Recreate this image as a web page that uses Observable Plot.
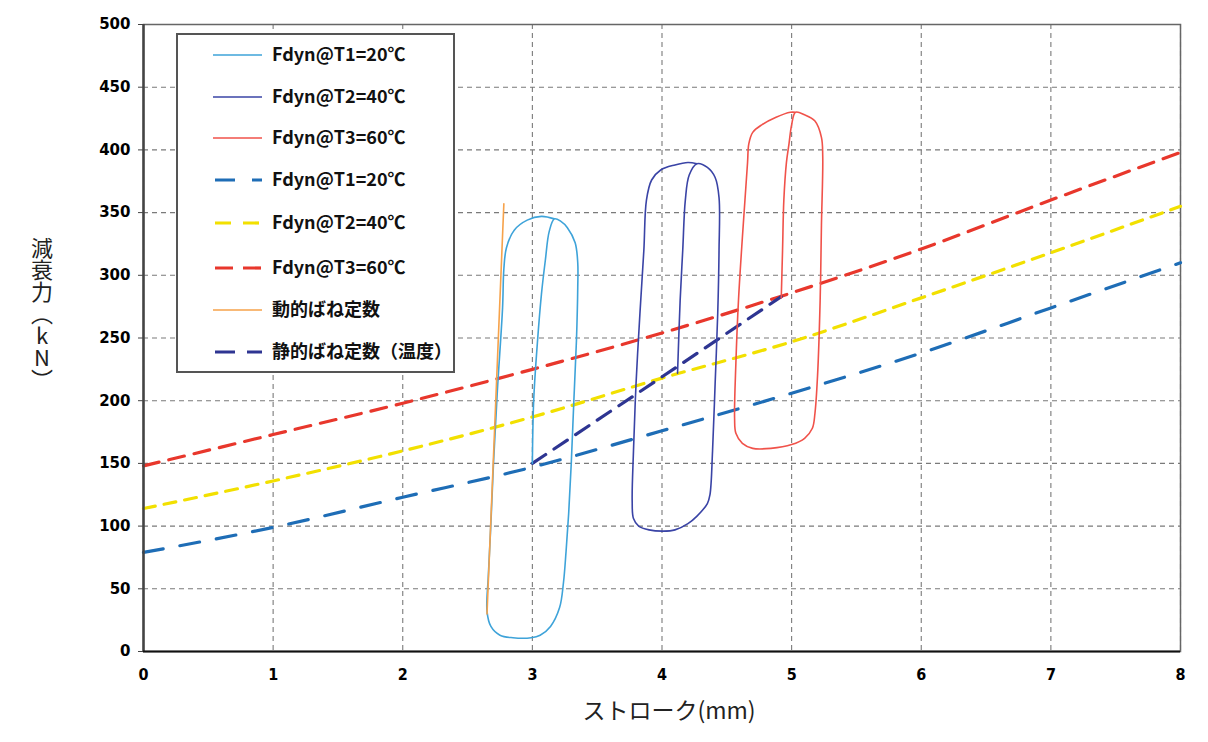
<!DOCTYPE html>
<html>
<head>
<meta charset="utf-8">
<script src="https://cdn.jsdelivr.net/npm/d3@7"></script>
<script src="https://cdn.jsdelivr.net/npm/@observablehq/plot@0.6"></script>
<style>
  html, body { margin: 0; padding: 0; background: #fff; }
  #chart { width: 1208px; height: 742px; }
</style>
</head>
<body>
<div id="chart"></div>
<script>
// ---- Data ----
const xTicks = [0, 1, 2, 3, 4, 5, 6, 7, 8];
const yTicks = [0, 50, 100, 150, 200, 250, 300, 350, 400, 450, 500];
const xLabel = "ストローク(mm)";
const yLabel = "減衰力（kN）";

// Static (dashed) characteristic lines
const staticX = [0, 1, 2, 3, 4, 5, 6, 7, 8];
const staticT1Y = [79, 99, 123, 147, 176, 206, 238, 274, 310];
const staticT2Y = [114, 136, 160, 187, 218, 247, 282, 318, 355];
const staticT3Y = [148, 173, 198, 225, 254, 286, 321, 360, 398];

// Hysteresis loops (Fdyn)
const loopT1X = [3.00, 3.01, 3.04, 3.07, 3.10, 3.13, 3.17, 3.22, 3.27, 3.33, 3.35, 3.35, 3.34, 3.32, 3.30, 3.28, 3.26, 3.24, 3.21, 3.14, 3.06, 2.99, 2.85, 2.75, 2.68, 2.65, 2.66, 2.68, 2.70, 2.73, 2.77, 2.78, 2.80, 2.86, 2.96, 3.07, 3.17];
const loopT1Y = [150, 200, 248, 285, 312, 335, 345, 343, 338, 326, 310, 290, 248, 200, 150, 110, 80, 55, 35, 20, 13, 11, 11, 13, 20, 32, 60, 102, 150, 208, 274, 305, 322, 336, 344, 347, 345];

const loopT2X = [4.12, 4.14, 4.16, 4.18, 4.21, 4.27, 4.35, 4.41, 4.44, 4.44, 4.43, 4.41, 4.39, 4.37, 4.35, 4.27, 4.20, 4.10, 4.01, 3.90, 3.82, 3.78, 3.77, 3.78, 3.80, 3.83, 3.86, 3.88, 3.92, 3.99, 4.10, 4.20, 4.27];
const loopT2Y = [222, 280, 320, 360, 380, 389, 386, 378, 362, 320, 270, 214, 160, 125, 118, 108, 102, 97, 96, 97, 100, 106, 120, 160, 214, 270, 320, 360, 376, 384, 388, 390, 389];

const loopT3X = [4.92, 4.93, 4.94, 4.96, 4.98, 5.00, 5.03, 5.10, 5.18, 5.23, 5.24, 5.23, 5.22, 5.20, 5.18, 5.16, 5.10, 5.00, 4.84, 4.70, 4.62, 4.57, 4.56, 4.57, 4.59, 4.62, 4.64, 4.66, 4.67, 4.70, 4.77, 4.88, 4.99, 5.03];
const loopT3Y = [282, 320, 360, 390, 405, 420, 430, 428, 423, 410, 395, 340, 280, 220, 190, 178, 170, 165, 162, 162, 166, 174, 186, 230, 280, 330, 360, 390, 405, 414, 420, 426, 430, 430];

// Dynamic spring constant (orange) and static spring constant (navy dashed)
const dynSpringX = [2.65, 2.78];
const dynSpringY = [30, 357];
const statSpringX = [3.0, 4.0, 4.92];
const statSpringY = [150, 219, 283];

// Legend
const legendNames = ["Fdyn@T1=20℃", "Fdyn@T2=40℃", "Fdyn@T3=60℃", "Fdyn@T1=20℃", "Fdyn@T2=40℃", "Fdyn@T3=60℃", "動的ばね定数", "静的ばね定数（温度）"];
const legendColors = ["#3ea3d9", "#3a44a6", "#f0524a", "#1e6db6", "#f2e000", "#e8372c", "#f6a24a", "#2e3592"];
const legendWidths = [1.6, 1.6, 1.6, 3.2, 3.2, 3.2, 1.6, 3.2];
const legendDash = ["", "", "", "20,17", "16,12", "18,10", "", "20,12"];

// ---- Chart ----
const font = "'Liberation Sans', Arial, sans-serif";
const chart = Plot.plot({
  width: 1208,
  height: 742,
  marginLeft: 143,
  marginRight: 28,
  marginTop: 24,
  marginBottom: 91,
  style: { background: "#fff", fontFamily: font },
  x: { domain: [0, 8] },
  y: { domain: [0, 500] },
  marks: [
    Plot.gridX(xTicks, { stroke: "#7a7a7a", strokeOpacity: 1, strokeDasharray: "5,4", strokeWidth: 1.1 }),
    Plot.gridY(yTicks, { stroke: "#7a7a7a", strokeOpacity: 1, strokeDasharray: "5,4", strokeWidth: 1.1 }),
    Plot.frame({ stroke: "#666", strokeWidth: 1.5 }),
    Plot.line(staticX, { x: staticX, y: staticT1Y, stroke: legendColors[3], strokeWidth: 3.2, strokeDasharray: "20,17", curve: "monotone-x" }),
    Plot.line(staticX, { x: staticX, y: staticT2Y, stroke: legendColors[4], strokeWidth: 3.2, strokeDasharray: "12,9", curve: "monotone-x" }),
    Plot.line(staticX, { x: staticX, y: staticT3Y, stroke: legendColors[5], strokeWidth: 3.2, strokeDasharray: "16,10", curve: "monotone-x" }),
    Plot.line(statSpringX, { x: statSpringX, y: statSpringY, stroke: legendColors[7], strokeWidth: 3.2, strokeDasharray: "16,10", curve: "monotone-x" }),
    Plot.line(loopT1X, { x: loopT1X, y: loopT1Y, stroke: legendColors[0], strokeWidth: 1.6, curve: "catmull-rom" }),
    Plot.line(loopT2X, { x: loopT2X, y: loopT2Y, stroke: legendColors[1], strokeWidth: 1.6, curve: "catmull-rom" }),
    Plot.line(loopT3X, { x: loopT3X, y: loopT3Y, stroke: legendColors[2], strokeWidth: 1.6, curve: "catmull-rom" }),
    Plot.line(dynSpringX, { x: dynSpringX, y: dynSpringY, stroke: legendColors[6], strokeWidth: 1.6 }),
    Plot.ruleX([0], { stroke: "#444", strokeWidth: 2.5 }),
    Plot.ruleY([0], { stroke: "#111", strokeWidth: 2 }),
    Plot.axisY(yTicks, { tickSize: 5, tickPadding: 8, fontSize: 15, fontWeight: "bold", fontFamily: "'DejaVu Sans', sans-serif", label: null, tickFormat: d => String(d), stroke: "#444" }),
    Plot.axisX(xTicks, { tickSize: 0, tickPadding: 17, fontSize: 16, fontWeight: "bold", fontFamily: "'Liberation Sans Narrow', 'DejaVu Sans Condensed', sans-serif", label: null, tickFormat: d => String(d) }),
    Plot.text([xLabel], { text: d => d, frameAnchor: "bottom", dy: 67, dx: 7, fontSize: 23, fontFamily: "'Noto Sans CJK JP', sans-serif", fill: "#222" })
  ]
});
document.getElementById("chart").appendChild(chart);

// ---- Y label (vertical) and legend ----
const svg = d3.select(chart);
svg.append("text")
  .attr("x", 42)
  .attr("y", 314)
  .attr("text-anchor", "middle")
  .style("writing-mode", "vertical-rl")
  .style("text-orientation", "upright")
  .style("font-family", "'Noto Sans CJK JP', sans-serif")
  .style("font-size", "22px")
  .style("fill", "#222")
  .text(yLabel);

const lg = svg.append("g").attr("text-anchor", "start");
lg.append("rect")
  .attr("x", 177).attr("y", 34).attr("width", 277).attr("height", 338)
  .attr("fill", "#fff").attr("stroke", "#555").attr("stroke-width", 2);
const rowY = [55, 97, 138, 180, 223, 268, 310, 352];
legendNames.forEach((name, i) => {
  const dashed = legendDash[i].length > 0;
  lg.append("line")
    .attr("x1", dashed ? 215 : 213).attr("x2", 262)
    .attr("y1", rowY[i]).attr("y2", rowY[i])
    .attr("stroke", legendColors[i])
    .attr("stroke-width", legendWidths[i])
    .attr("stroke-dasharray", dashed ? legendDash[i] : null);
  lg.append("text")
    .attr("x", 272).attr("y", rowY[i])
    .attr("dy", "0.35em")
    .attr("text-anchor", "start")
    .style("font-family", "'Noto Sans CJK JP', sans-serif")
    .style("font-weight", "bold")
    .style("font-size", "18px")
    .style("fill", "#111")
    .text(name);
});
</script>
</body>
</html>
